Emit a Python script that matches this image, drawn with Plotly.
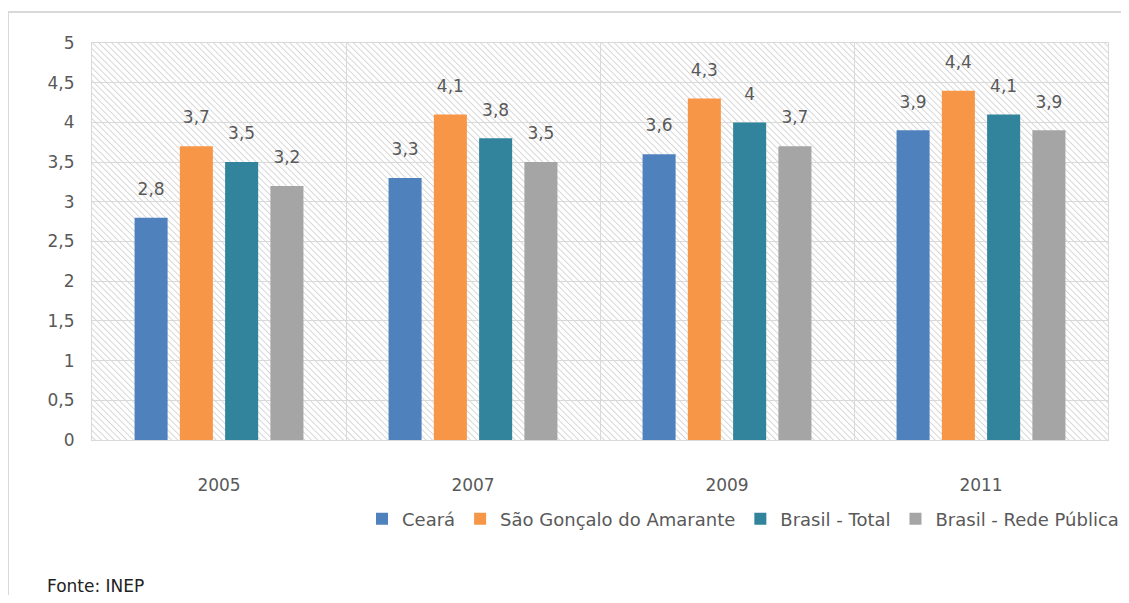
import base64
import plotly.graph_objects as go

# IDEB - anos iniciais
anos = ['2005', '2007', '2009', '2011']
ceara = [2.8, 3.3, 3.6, 3.9]
sao_goncalo = [3.7, 4.1, 4.3, 4.4]
brasil_total = [3.5, 3.8, 4.0, 4.1]
brasil_publica = [3.2, 3.5, 3.7, 3.9]

series = [
    ('Ceará', ceara, '#4F81BD'),
    ('São Gonçalo do Amarante', sao_goncalo, '#F79646'),
    ('Brasil - Total', brasil_total, '#31849B'),
    ('Brasil - Rede Pública', brasil_publica, '#A5A5A5'),
]

# page body has an 8px margin; keep the figure inside the window
OFF = 8
W, H = 1129 - OFF, 603 - 2 * OFF
L, T = 92 - OFF, 43 - OFF
R, B = W - (1108 - OFF), H - (440 - OFF)
pw, ph = W - L - R, H - T - B

FONT = 'DejaVu Sans'
GREY = '#595959'
GAP = 0.287


def fmt(v):
    return f'{v:g}'.replace('.', ',')


def px(x):  # screen x -> paper x
    return (x - OFF - L) / pw


def py(y):  # screen y -> paper y
    return (H - B - (y - OFF)) / ph


# hatched background of the plot area (excel style)
svg = (f'<svg xmlns="http://www.w3.org/2000/svg" width="{pw}" height="{ph}" '
       f'viewBox="0 0 {pw} {ph}" preserveAspectRatio="none">'
       '<defs><pattern id="h" width="4.5" height="4.5" patternUnits="userSpaceOnUse" '
       'patternTransform="rotate(-45)">'
       '<line x1="0.5" y1="0" x2="0.5" y2="4.5" stroke="#d6d6d6" stroke-width="1"/>'
       '</pattern></defs>'
       f'<rect width="{pw}" height="{ph}" fill="white"/>'
       f'<rect width="{pw}" height="{ph}" fill="url(#h)"/></svg>')
hatch = 'data:image/svg+xml;base64,' + base64.b64encode(svg.encode()).decode()

fig = go.Figure()
for name, vals, color in series:
    fig.add_trace(go.Bar(
        name=name, x=anos, y=vals,
        marker=dict(color=color, line=dict(width=0)),
    ))
# value labels, lifted a little above the bars
for name, vals, color in series:
    fig.add_trace(go.Scatter(
        x=anos, y=vals, mode='markers+text', showlegend=False,
        text=[fmt(v) for v in vals], textposition='top center',
        textfont=dict(family=FONT, size=17, color=GREY),
        marker=dict(size=28, opacity=0), hoverinfo='skip',
        cliponaxis=False,
    ))

fig.update_layout(
    width=W, height=H,
    margin=dict(l=L, r=R, t=T, b=B, autoexpand=False),
    paper_bgcolor='white', plot_bgcolor='rgba(0,0,0,0)',
    barmode='group', bargap=GAP, bargroupgap=0.27,
    scattermode='group', scattergap=GAP,
    separators=',.',
    font=dict(family=FONT, size=17, color=GREY),
    legend=dict(orientation='h', xref='container', yref='container',
                x=(1124 - OFF) / W, xanchor='right',
                y=1 - (519 - OFF) / H, yanchor='middle',
                font=dict(family=FONT, size=18, color=GREY),
                itemwidth=30, tracegroupgap=0, bgcolor='rgba(0,0,0,0)'),
    images=[dict(source=hatch, xref='paper', yref='paper', x=0, y=1,
                 sizex=1, sizey=1, sizing='stretch', xanchor='left',
                 yanchor='top', layer='below')],
    shapes=[dict(type='rect', xref='paper', yref='paper',
                 x0=px(8), x1=px(1150), y0=py(630), y1=py(12),
                 line=dict(color='#d9d9d9', width=2), layer='below')],
    annotations=[dict(text='Fonte: INEP', xref='paper', yref='paper',
                      x=px(45), y=py(586), xanchor='left',
                      yanchor='middle', showarrow=False,
                      font=dict(family=FONT, size=17, color='#222222'))],
)

fig.update_xaxes(
    type='category', tickson='boundaries', showgrid=True,
    gridcolor='#d9d9d9', gridwidth=1, ticks='',
    showline=True, linecolor='#d9d9d9', mirror=True,
    ticklabelstandoff=30,
    tickfont=dict(family=FONT, size=17, color=GREY),
)
fig.update_yaxes(
    range=[0, 5], dtick=0.5, showgrid=True, gridcolor='#d9d9d9', gridwidth=1,
    zeroline=False, showline=True, linecolor='#d9d9d9', mirror=True,
    ticks='', ticklabelstandoff=13,
    tickfont=dict(family=FONT, size=17, color=GREY),
)

fig.write_html('out.html')
